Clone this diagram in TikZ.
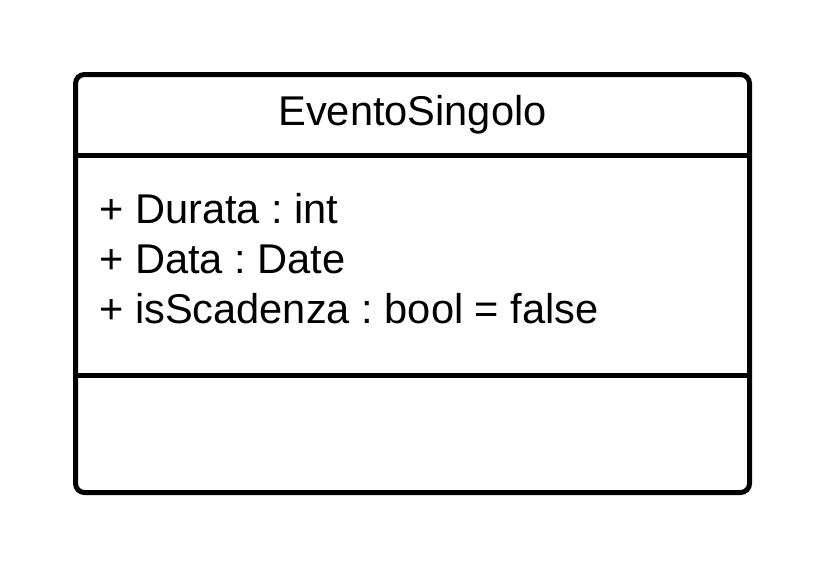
\documentclass[tikz,border=0pt]{standalone}
\usepackage{fontspec}
\setmainfont{Liberation Sans}
\frenchspacing
\tikzset{
  umlline/.style={line width=5pt},
  umltext/.style={inner sep=0pt, font=\fontsize{41.6}{50}\selectfont},
}
\begin{document}
\begin{tikzpicture}[x=1pt,y=-1pt]
\useasboundingbox (0,0) rectangle (825,570);
\draw[umlline, rounded corners=9pt] (75.5,74.5) rectangle (749.5,492.5);
\draw[umlline] (75.5,155) -- (749.5,155);
\draw[umlline] (75.5,375) -- (749.5,375);

\node[umltext, anchor=base] (name) at (412.5,125) {EventoSingolo};

\node[umltext, anchor=base west] (durata) at (99,223) {+ Durata : int};
\node[umltext, anchor=base west] (data) at (99,273) {+ Data : Date};
\node[umltext, anchor=base west] (scad) at (99,323) {+ isScadenza : bool = false};
\end{tikzpicture}
\end{document}
